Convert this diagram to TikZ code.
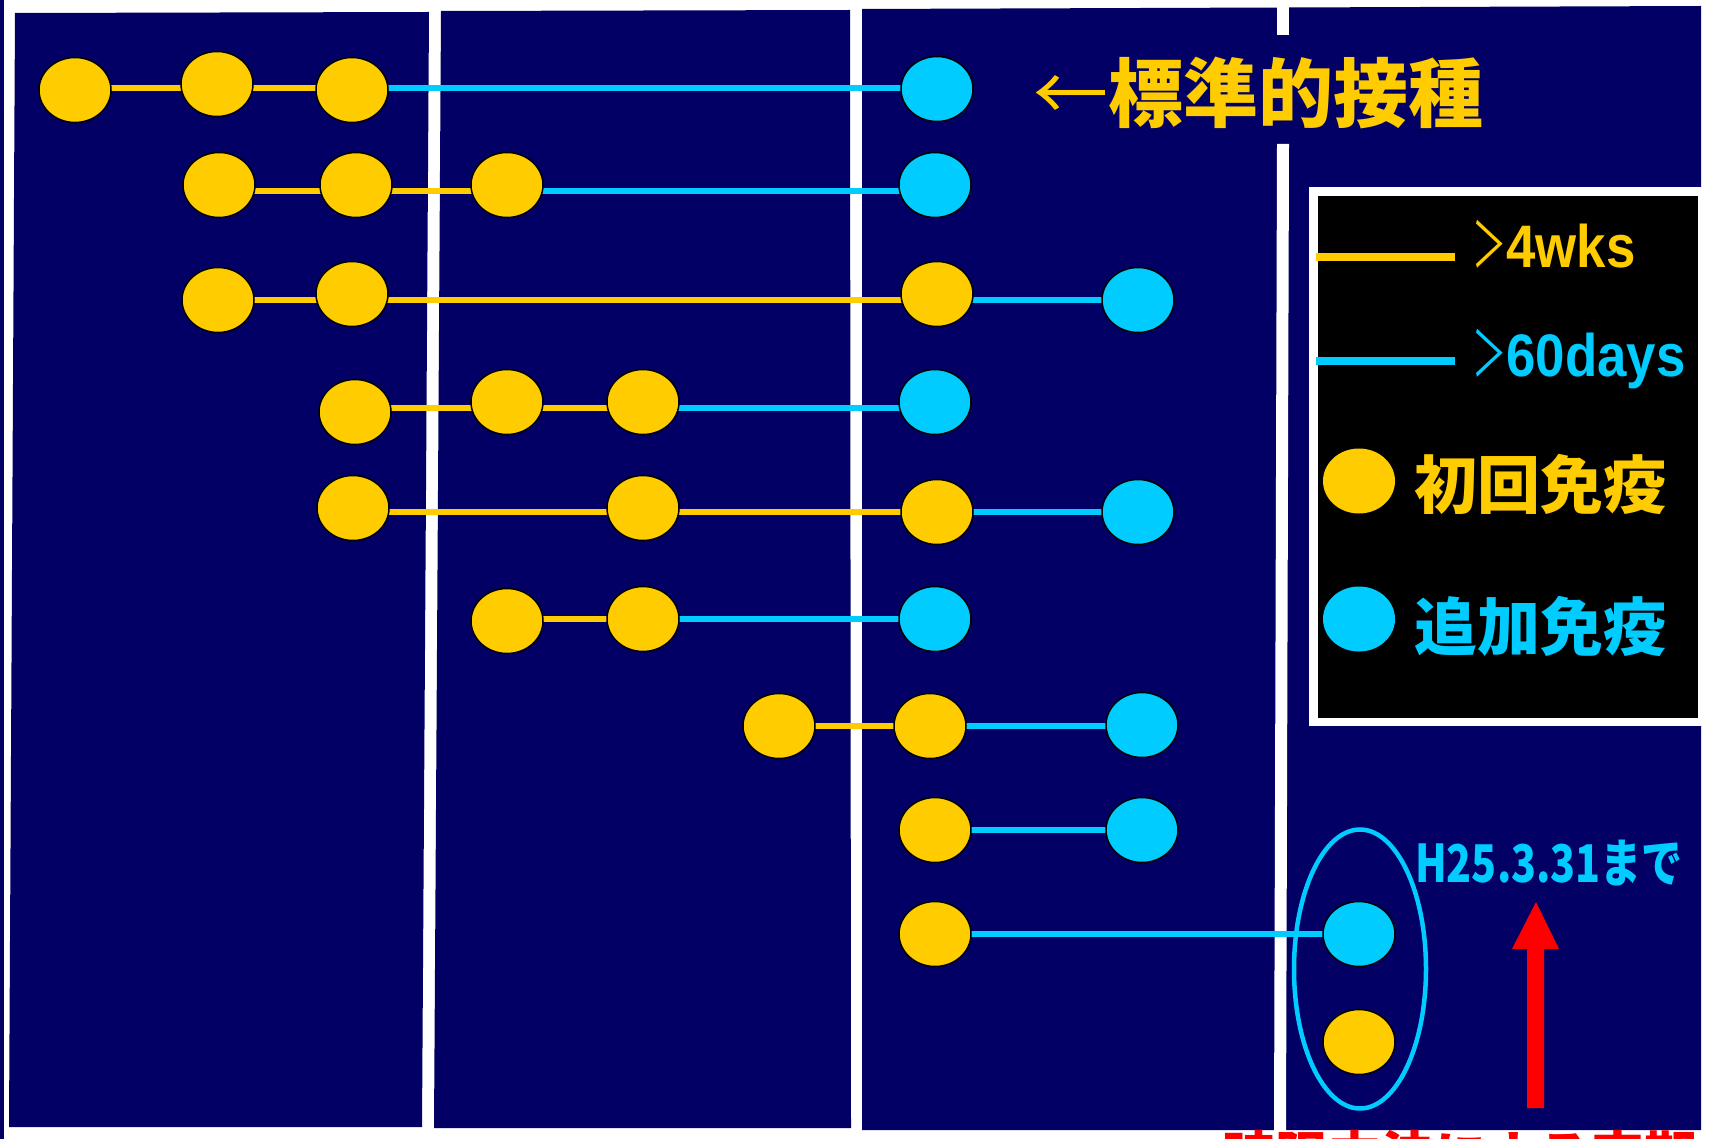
\documentclass[tikz,border=0pt]{standalone}
\usepackage{fontspec}
\usetikzlibrary{shapes.geometric}
\newfontfamily\jp{Noto Sans CJK JP}
\newfontfamily\lsb{Liberation Sans}
\definecolor{navy}{RGB}{2,0,100}
\definecolor{vy}{RGB}{255,204,0}
\definecolor{vc}{RGB}{0,204,255}
\definecolor{vr}{RGB}{255,0,0}
\pgfdeclarelayer{back}
\pgfdeclarelayer{mid}
\pgfsetlayers{back,mid,main}
\begin{document}
\begin{tikzpicture}[x=1pt,y=-1pt,
  dot/.style={ellipse, minimum width=72pt, minimum height=65pt, inner sep=0pt, draw=black, line width=1.5pt},
  yd/.style={dot, fill=vy},
  cd/.style={dot, fill=vc},
  yl/.style={draw=vy, line width=5.5pt},
  cl/.style={draw=vc, line width=5.5pt},
  lbl/.style={anchor=base west, inner sep=0pt}]
\useasboundingbox (0,0) rectangle (1709,1139);
\begin{pgfonlayer}{back}
\fill[white] (0,0) rectangle (1709,1139);
\fill[navy] (0,0) rectangle (4,1139);
\fill[navy] (15,13) -- (429,12) -- (422,1127) -- (9,1127) -- cycle;
\fill[navy] (441,11) -- (850,10) -- (851,1128) -- (434,1128) -- cycle;
\fill[navy] (862,9) -- (1701,6) -- (1701,1130) -- (862,1130) -- cycle;
\fill[white] (1277,0) rectangle (1289,35);
\fill[white] (1277,144) -- (1289,144) -- (1286,1131) -- (1274,1131) -- cycle;
\end{pgfonlayer}
% row 1
\node[yd] (r1a) at (75,90) {};
\node[yd] (r1b) at (217,84) {};
\node[yd] (r1c) at (352,90) {};
\node[cd] (r1d) at (937,89) {};
% row 2
\node[yd] (r2a) at (219,185) {};
\node[yd] (r2b) at (356,185) {};
\node[yd] (r2c) at (507,185) {};
\node[cd] (r2d) at (935,185) {};
% row 3
\node[yd] (r3a) at (218,300) {};
\node[yd] (r3b) at (352,294) {};
\node[yd] (r3c) at (937,294) {};
\node[cd] (r3d) at (1138,300) {};
% row 4
\node[yd] (r4a) at (355,412) {};
\node[yd] (r4b) at (507,402) {};
\node[yd] (r4c) at (643,402) {};
\node[cd] (r4d) at (935,402) {};
% row 5
\node[yd] (r5a) at (353,508) {};
\node[yd] (r5b) at (643,508) {};
\node[yd] (r5c) at (937,512) {};
\node[cd] (r5d) at (1138,512) {};
% row 6
\node[yd] (r6a) at (507,621) {};
\node[yd] (r6b) at (643,619) {};
\node[cd] (r6c) at (935,619) {};
% row 7
\node[yd] (r7a) at (779,726) {};
\node[yd] (r7b) at (930,726) {};
\node[cd] (r7c) at (1142,725) {};
% row 8
\node[yd] (r8a) at (935,830) {};
\node[cd] (r8b) at (1142,830) {};
% row 9
\node[yd] (r9a) at (935,934) {};
\node[cd] (r9b) at (1359,934) {};
\node[yd] (r9c) at (1359,1042) {};
\node[ellipse, draw=vc, line width=4.5pt, minimum width=132pt, minimum height=279pt, inner sep=0pt] (grp) at (1360,969) {};
% line heights
\coordinate (L1) at (0,88);
\coordinate (L2) at (0,191);
\coordinate (L3) at (0,300);
\coordinate (L4) at (0,408);
\coordinate (L5) at (0,512);
\coordinate (L6) at (0,619);
\coordinate (L7) at (0,726);
\coordinate (L8) at (0,830);
\coordinate (L9) at (0,934);
\begin{pgfonlayer}{mid}
\draw[yl] (L1 -| r1a) -- (L1 -| r1b);
\draw[yl] (L1 -| r1b) -- (L1 -| r1c);
\draw[cl] (L1 -| r1c) -- (L1 -| r1d);
\draw[yl] (L2 -| r2a) -- (L2 -| r2b);
\draw[yl] (L2 -| r2b) -- (L2 -| r2c);
\draw[cl] (L2 -| r2c) -- (L2 -| r2d);
\draw[yl] (L3 -| r3a) -- (L3 -| r3b);
\draw[yl] (L3 -| r3b) -- (L3 -| r3c);
\draw[cl] (L3 -| r3c) -- (L3 -| r3d);
\draw[yl] (L4 -| r4a) -- (L4 -| r4b);
\draw[yl] (L4 -| r4b) -- (L4 -| r4c);
\draw[cl] (L4 -| r4c) -- (L4 -| r4d);
\draw[yl] (L5 -| r5a) -- (L5 -| r5b);
\draw[yl] (L5 -| r5b) -- (L5 -| r5c);
\draw[cl] (L5 -| r5c) -- (L5 -| r5d);
\draw[yl] (L6 -| r6a) -- (L6 -| r6b);
\draw[cl] (L6 -| r6b) -- (L6 -| r6c);
\draw[yl] (L7 -| r7a) -- (L7 -| r7b);
\draw[cl] (L7 -| r7b) -- (L7 -| r7c);
\draw[cl] (L8 -| r8a) -- (L8 -| r8b);
\draw[cl] (L9 -| r9a) -- (L9 -| r9b);
\end{pgfonlayer}
% title
\node[lbl, text=vy, font={\fontsize{75}{75}\jp}] (title) at (1033,122) {←{\bfseries 標準的接種}};
% legend
\fill[white] (1309,187) rectangle (1702,726);
\fill[black] (1318,196) rectangle (1698,718);
\coordinate (ly1) at (1316,257);
\coordinate (ly2) at (1455,257);
\coordinate (lc1) at (1316,361);
\coordinate (lc2) at (1455,361);
\draw[vy, line width=8pt] (ly1) -- (ly2);
\draw[vc, line width=8pt] (lc1) -- (lc2);
\node[lbl, text=vy] (t4w) at (1472,268) {\scalebox{0.55}[1]{\fontsize{62}{62}\jp ＞}\scalebox{0.88}[1]{\fontsize{60}{60}\lsb\bfseries 4wks}};
\node[lbl, text=vc] (t60) at (1472,377) {\scalebox{0.55}[1]{\fontsize{62}{62}\jp ＞}\scalebox{0.88}[1]{\fontsize{60}{60}\lsb\bfseries 60days}};
\node[yd, draw=none] (lgy) at (1359,481) {};
\node[cd, draw=none] (lgc) at (1359,619) {};
\node[lbl, text=vy, font={\fontsize{63}{63}\jp\bfseries}] (tsh) at (1414,508) {初回免疫};
\node[lbl, text=vc, font={\fontsize{63}{63}\jp\bfseries}] (tts) at (1414,650) {追加免疫};
% date and arrow
\node[lbl, text=vc, xscale=0.79, font={\fontsize{52}{52}\jp\bfseries}] (date) at (1415,882) {H25.3.31まで};
\fill[vr] (1527,1108) -- (1527,949) -- (1512,949) -- (1536,902) -- (1559,949) -- (1544,949) -- (1544,1108) -- cycle;
\node[lbl, text=vr, font={\fontsize{53}{53}\jp\bfseries}] (note) at (1222,1175) {時限立法による定期の};
\end{tikzpicture}
\end{document}
